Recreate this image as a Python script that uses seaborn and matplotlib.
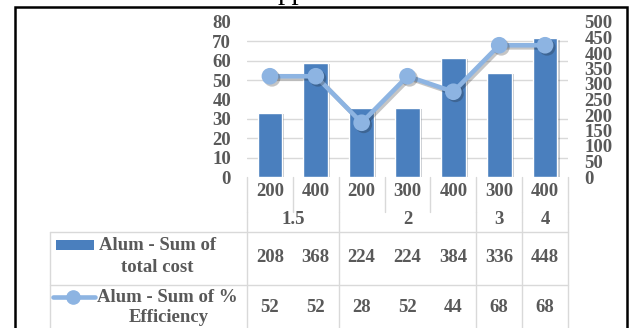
import numpy as np
import pandas as pd
import matplotlib
matplotlib.use("Agg")
import matplotlib.pyplot as plt
import matplotlib.transforms as mtransforms
import matplotlib.patheffects as pe
from matplotlib.patches import Rectangle
from matplotlib.lines import Line2D
import seaborn as sns

# ---- data ----
dose_groups = ["1.5", "2", "3", "4"]
group_sizes = [2, 3, 1, 1]
speeds = ["200", "400", "200", "300", "400", "300", "400"]
total_cost = [208, 368, 224, 224, 384, 336, 448]
efficiency = [52, 52, 28, 52, 44, 68, 68]
cost_label = ["Alum - Sum of", "total cost"]
eff_label = ["Alum - Sum of %", "Efficiency"]
left_ticks = list(range(0, 81, 10))
right_ticks = list(range(0, 501, 50))

sns.set_theme(style="white")
plt.rcParams["font.family"] = ["Liberation Serif", "DejaVu Serif"]

TEXT = "#595959"
GRID = "#d9d9d9"
BAR = "#4a7fbe"
LINE = "#8db4e2"
FS = 13.5

W, H = 632, 328
fig = plt.figure(figsize=(W / 100, H / 100), dpi=100)


def fx(px):
    return px / W


def fy(py):
    return 1 - py / H


X0, X1, Y0, Y1 = 247, 568, 177, 22
ax_bar = fig.add_axes([fx(X0), fy(Y0), fx(X1) - fx(X0), fy(Y1) - fy(Y0)])
ax_line = ax_bar.twinx()

df = pd.DataFrame({"pos": np.arange(len(speeds)), "cost": total_cost, "eff": efficiency})

# bars: total cost on the right-hand scale
sns.barplot(data=df, x="pos", y="cost", ax=ax_bar, color=BAR, saturation=1,
            width=0.54, errorbar=None)
for p in ax_bar.patches:
    p.set_path_effects([pe.SimplePatchShadow(offset=(1.5, -1), alpha=0.25), pe.Normal()])

# line: efficiency on the left-hand scale
sns.pointplot(data=df, x="pos", y="eff", ax=ax_line, color=LINE, markers="o",
              errorbar=None, markersize=9.5, linewidth=3.3)
for ln in ax_line.lines:
    ln.set_path_effects([pe.SimpleLineShadow(offset=(1.5, -1.5), alpha=0.25), pe.Normal()])

for a in (ax_bar, ax_line):
    a.set_xlim(-0.5, len(speeds) - 0.5)
    a.set_xlabel("")
    a.set_ylabel("")
    a.set_xticks([])
    for s in a.spines.values():
        s.set_visible(False)

ax_bar.set_ylim(0, 500)
ax_bar.yaxis.tick_right()
ax_bar.set_yticks(right_ticks)
ax_bar.set_yticklabels([str(t) for t in right_ticks])
ax_bar.set_yticks([v * 500 / 80 for v in left_ticks], minor=True)
ax_bar.grid(which="minor", axis="y", color=GRID, lw=1)
ax_bar.grid(which="major", axis="y", visible=False)
ax_bar.set_axisbelow(True)
ax_bar.tick_params(axis="y", which="both", length=0, pad=12, labelsize=FS,
                   labelcolor=TEXT)

ax_line.set_ylim(0, 80)
ax_line.yaxis.tick_left()
ax_line.set_yticks(left_ticks)
ax_line.set_yticklabels([str(t) for t in left_ticks])
ax_line.tick_params(axis="y", length=0, pad=11.5, labelsize=FS, labelcolor=TEXT)
ax_line.grid(False)

for lab in ax_bar.get_yticklabels() + ax_line.get_yticklabels():
    lab.set_fontweight("bold")

# ---- data table beneath the plot ----
tr = mtransforms.blended_transform_factory(ax_bar.transData, fig.transFigure)
txt = dict(color=TEXT, fontsize=FS, fontweight="bold", ha="center", va="center")

for i, s in enumerate(speeds):
    fig.text(i, fy(192), s, transform=tr, **txt)
    fig.text(i, fy(258), str(total_cost[i]), transform=tr, **txt)
    fig.text(i, fy(307), str(efficiency[i]), transform=tr, **txt)

start = 0
bounds = [0]
for g, n in zip(dose_groups, group_sizes):
    fig.text(start + (n - 1) / 2, fy(219), g, transform=tr, **txt)
    start += n
    bounds.append(start)

col_w = (X1 - X0) / len(speeds)


def vline(xp, ya, yb):
    fig.add_artist(Line2D([fx(xp), fx(xp)], [fy(ya), fy(yb)], color=GRID, lw=1))


def hline(y, xa, xb):
    fig.add_artist(Line2D([fx(xa), fx(xb)], [fy(y), fy(y)], color=GRID, lw=1))


for k in range(len(speeds) + 1):
    vline(X0 + k * col_w, Y0, 212)
for k in bounds:
    vline(X0 + k * col_w, 212, 330)
vline(50, 232, 330)
hline(232, 50, X1)
hline(285, 50, X1)

# legend keys and row labels
fig.add_artist(Rectangle((fx(56), fy(250)), fx(94) - fx(56), fy(240) - fy(250),
                         facecolor=BAR, edgecolor="none"))
fig.add_artist(Line2D([fx(53), fx(95)], [fy(297), fy(297)], color=LINE, lw=3.3))
fig.add_artist(Line2D([fx(73)], [fy(297)], color=LINE, marker="o", markersize=9.5, lw=0))

fig.text(fx(157.5), fy(246), cost_label[0], **txt)
fig.text(fx(157.5), fy(268), cost_label[1], **txt)
fig.text(fx(167), fy(297), eff_label[0], **txt)
fig.text(fx(169), fy(318), eff_label[1], **txt)

# heading above the frame (only its descenders fall inside the canvas)
fig.text(fx(292), fy(-1), "pp", ha="center", va="baseline", fontsize=21, color="black")

# outer frame
fig.add_artist(Rectangle((fx(15), fy(340)), fx(627) - fx(15), fy(7) - fy(340),
                         facecolor="none", edgecolor="black", lw=1.8, clip_on=False))

fig.savefig("out.png", dpi=100)
